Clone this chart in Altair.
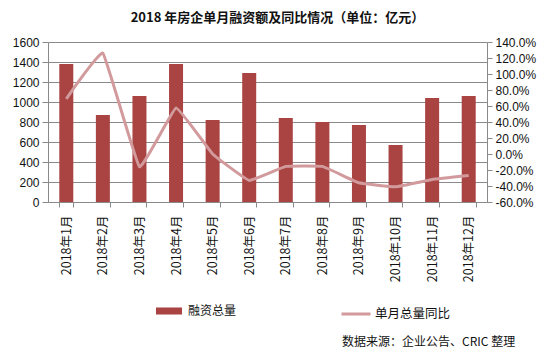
import altair as alt
import pandas as pd

months = ["2018年1月", "2018年2月", "2018年3月", "2018年4月", "2018年5月", "2018年6月",
          "2018年7月", "2018年8月", "2018年9月", "2018年10月", "2018年11月", "2018年12月"]
amount = [1380, 870, 1060, 1380, 820, 1290, 840, 800, 770, 570, 1040, 1060]
yoy = [0.69, 1.26, -0.16, 0.575, 0.0, -0.33, -0.155, -0.155, -0.36, -0.41, -0.32, -0.27]

df = pd.DataFrame({"month": months, "amount": amount, "yoy": yoy,
                   "s1": "融资总量", "s2": "单月总量同比"})

BAR = "#A94442"
LINE = "#D29A9C"
GRID = "#8A8A8A"
FONT = "Noto Sans CJK SC"

x = alt.X("month:N", sort=months, title=None,
          scale=alt.Scale(paddingInner=0.62, paddingOuter=0.31),
          axis=alt.Axis(labelAngle=270, labelAlign="right", labelBaseline="middle",
                        labelFont=FONT, labelFontSize=12.5, labelColor="#111",
                        tickBand="extent", tickSize=5, tickColor=GRID,
                        domainColor=GRID, labelPadding=8, grid=False))

bars = alt.Chart(df).mark_bar(size=14).encode(
    x=x,
    y=alt.Y("amount:Q", title=None,
            scale=alt.Scale(domain=[0, 1600], nice=False),
            axis=alt.Axis(values=list(range(0, 1601, 200)), grid=True, gridColor=GRID,
                          format="d",
                          tickSize=6, tickColor=GRID, domainColor=GRID,
                          labelFont="Liberation Sans", labelFontSize=12, labelColor="#111",
                          labelPadding=3)),
    fill=alt.Fill("s1:N", title=None,
                  scale=alt.Scale(domain=["融资总量"], range=[BAR]),
                  legend=alt.Legend(orient="none", legendX=108, legendY=256,
                                    symbolType="M-1,-0.27L1,-0.27L1,0.27L-1,0.27Z",
                                    symbolSize=676, symbolStrokeWidth=0,
                                    labelFont=FONT, labelFontSize=12, labelColor="#111",
                                    labelOffset=6)),
)

line = alt.Chart(df).mark_line(strokeWidth=3, interpolate="cardinal", tension=0.75).encode(
    x=x,
    y=alt.Y("yoy:Q", title=None,
            scale=alt.Scale(domain=[-0.6, 1.4], nice=False),
            axis=alt.Axis(orient="right", values=[-0.6, -0.4, -0.2, 0, 0.2, 0.4, 0.6, 0.8, 1.0, 1.2, 1.4],
                          grid=False, tickSize=5, tickColor=GRID, domainColor=GRID,
                          labelExpr="(datum.value < -0.0001 ? '-' : '') + format(abs(datum.value), '.1%')",
                          labelFont="Liberation Sans", labelFontSize=12, labelColor="#111",
                          labelPadding=3)),
    stroke=alt.Stroke("s2:N", title=None,
                      scale=alt.Scale(domain=["单月总量同比"], range=[LINE]),
                      legend=alt.Legend(orient="none", legendX=292, legendY=256,
                                        symbolType="stroke", symbolSize=841,
                                        symbolStrokeWidth=3,
                                        labelFont=FONT, labelFontSize=12.5, labelColor="#111",
                                        labelOffset=3)),
)

src = alt.Chart(pd.DataFrame({"t": ["数据来源：企业公告、CRIC 整理"]})).mark_text(
    align="left", baseline="middle", font=FONT, fontSize=12, color="#111"
).encode(text="t:N", x=alt.value(294), y=alt.value(300))

chart = alt.layer(bars, line, src).resolve_scale(
    y="independent", fill="independent", stroke="independent"
).properties(
    width=439, height=160,
    padding={"left": 40, "top": 34, "right": 60, "bottom": 151},
    autosize=alt.AutoSizeParams(type="none"),
    title=alt.TitleParams("2018 年房企单月融资额及同比情况（单位：亿元）",
                          font=FONT, fontSize=13, fontWeight="bold", color="#111",
                          anchor="middle", dx=10, offset=11),
).configure_view(stroke=None).configure(background="white")

chart.save("out.html", embed_options={"renderer": "svg", "actions": False})
